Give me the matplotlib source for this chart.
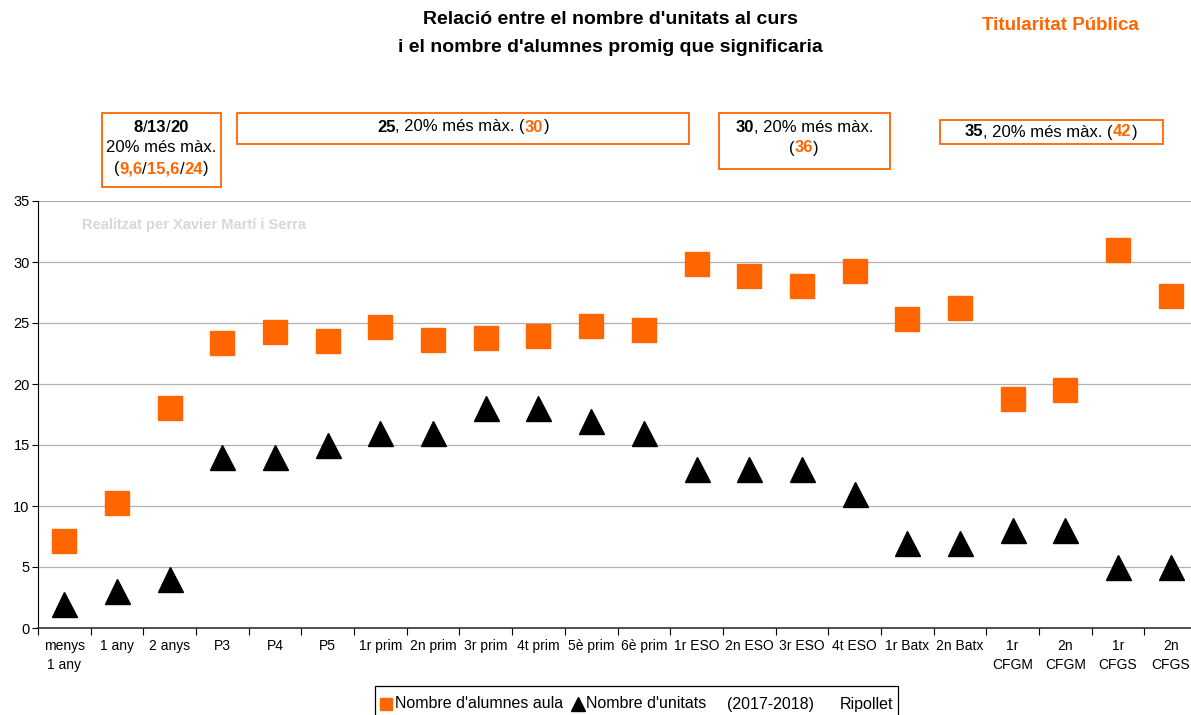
import matplotlib
matplotlib.use("Agg")
import matplotlib.pyplot as plt
from matplotlib.lines import Line2D
from matplotlib.patches import Rectangle

plt.rcParams['font.family'] = ['Liberation Sans', 'DejaVu Sans']

categories = ["menys\n1 any", "1 any", "2 anys", "P3", "P4", "P5", "1r prim", "2n prim",
              "3r prim", "4t prim", "5è prim", "6è prim", "1r ESO", "2n ESO", "3r ESO",
              "4t ESO", "1r Batx", "2n Batx", "1r\nCFGM", "2n\nCFGM", "1r\nCFGS", "2n\nCFGS"]
alumnes_aula = [7.1, 10.25, 18.0, 23.4, 24.3, 23.5, 24.7, 23.6, 23.8, 23.9, 24.75, 24.4,
                29.8, 28.85, 28.0, 29.3, 25.3, 26.2, 18.8, 19.5, 31.0, 27.2]
unitats = [2, 3, 4, 14, 14, 15, 16, 16, 18, 18, 17, 16, 13, 13, 13, 11, 7, 7, 8, 8, 5, 5]
yticks = [0, 5, 10, 15, 20, 25, 30, 35]

ORANGE = "#ff6600"
W, H = 1191, 715
fig = plt.figure(figsize=(W / 100, H / 100), dpi=100)
ax = fig.add_axes([38 / W, 1 - 628 / H, (1197 - 38) / W, (628 - 201) / H])

x = list(range(len(categories)))
ax.plot(x, alumnes_aula, linestyle='none', marker='s', markersize=17,
        color=ORANGE, markeredgecolor=ORANGE, clip_on=False, zorder=3)
ax.plot(x, unitats, linestyle='none', marker='^', markersize=18,
        color='black', clip_on=False, zorder=3)

ax.set_xlim(-0.5, len(categories) - 0.5)
ax.set_ylim(0, 35)
ax.set_yticks(yticks)
ax.tick_params(axis='y', labelsize=10.5, length=4, direction='out', pad=2)
ax.grid(axis='y', color='#b0b0b0', linewidth=0.9)
ax.set_axisbelow(True)
ax.set_xticks([i - 0.5 for i in range(len(categories) + 1)])
ax.set_xticklabels([])
ax.set_xticks(x, minor=True)
ax.set_xticklabels(categories, minor=True, fontsize=10, linespacing=1.45)
ax.tick_params(axis='x', which='major', length=5, direction='out')
ax.tick_params(axis='x', which='minor', length=0, pad=8)
for s in ['top', 'right']:
    ax.spines[s].set_visible(False)
ax.spines['left'].set_color('black')
ax.spines['bottom'].set_color('#333333')
ax.spines['bottom'].set_linewidth(1.2)

# Title
fig.text(610 / W, 1 - 20 / H, "Relació entre el nombre d'unitats al curs",
         ha='center', va='center', fontsize=14, fontweight='bold')
fig.text(610 / W, 1 - 48 / H, "i el nombre d'alumnes promig que significaria",
         ha='center', va='center', fontsize=14, fontweight='bold')
fig.text(1060 / W, 1 - 26 / H, "Titularitat Pública", ha='center', va='center',
         fontsize=13.5, fontweight='bold', color=ORANGE)

# watermark
fig.text(82 / W, 1 - 225 / H, "Realitzat per Xavier Martí i Serra", ha='left', va='center',
         fontsize=10.5, fontweight='bold', color='#d8d8d8')

renderer = fig.canvas.get_renderer()


def rich_line(cx, cy, segments, size=12):
    """segments: list of (text, color, weight); cx, cy in pixels from top-left."""
    texts = []
    widths = []
    for t, c, w in segments:
        tt = fig.text(0, 0, t, fontsize=size, color=c, fontweight=w, va='center', ha='left')
        bb = tt.get_window_extent(renderer)
        texts.append(tt)
        widths.append(bb.width)
    total = sum(widths)
    xpos = cx - total / 2
    for tt, wd in zip(texts, widths):
        tt.set_position((xpos / W, 1 - cy / H))
        xpos += wd


def box(x0, y0, x1, y1, ec=ORANGE, lw=1.3):
    fig.patches.append(Rectangle((x0 / W, 1 - y1 / H), (x1 - x0) / W, (y1 - y0) / H,
                                 transform=fig.transFigure, fill=False,
                                 edgecolor=ec, linewidth=lw))


B, K, O = 'bold', 'black', ORANGE
box(102, 113, 221, 187)
rich_line(161, 127, [("8", K, B), ("/", K, 'normal'), ("13", K, B), ("/", K, 'normal'), ("20", K, B)])
rich_line(161, 148, [("20% més màx.", K, 'normal')])
rich_line(161, 169, [("(", K, 'normal'), ("9,6", O, B), ("/", K, 'normal'), ("15,6", O, B),
                     ("/", K, 'normal'), ("24", O, B), (")", K, 'normal')])

box(237, 113, 689, 144)
rich_line(463, 127, [("25", K, B), (", 20% més màx. (", K, 'normal'), ("30", O, B), (")", K, 'normal')])

box(719, 113, 890, 169)
rich_line(804, 127, [("30", K, B), (", 20% més màx.", K, 'normal')])
rich_line(804, 148, [("(", K, 'normal'), ("36", O, B), (")", K, 'normal')])

box(940, 120, 1163, 144)
rich_line(1051, 132, [("35", K, B), (", 20% més màx. (", K, 'normal'), ("42", O, B), (")", K, 'normal')])

# Legend (manual layout)
box(375, 686, 898, 718, ec='black', lw=0.9)
ly = 1 - 704 / H
fig.add_artist(Line2D([386 / W], [ly], transform=fig.transFigure, linestyle='none',
                      marker='s', markersize=9, color=ORANGE))
fig.text(395 / W, ly, "Nombre d'alumnes aula", fontsize=11.5, va='center', ha='left')
fig.add_artist(Line2D([578 / W], [ly], transform=fig.transFigure, linestyle='none',
                      marker='^', markersize=10, color='black'))
fig.text(586 / W, ly, "Nombre d'unitats", fontsize=11.5, va='center', ha='left')
fig.text(727 / W, ly, "(2017-2018)", fontsize=11.5, va='center', ha='left')
fig.text(840 / W, ly, "Ripollet", fontsize=11.5, va='center', ha='left')

fig.savefig("out.png", dpi=100)
